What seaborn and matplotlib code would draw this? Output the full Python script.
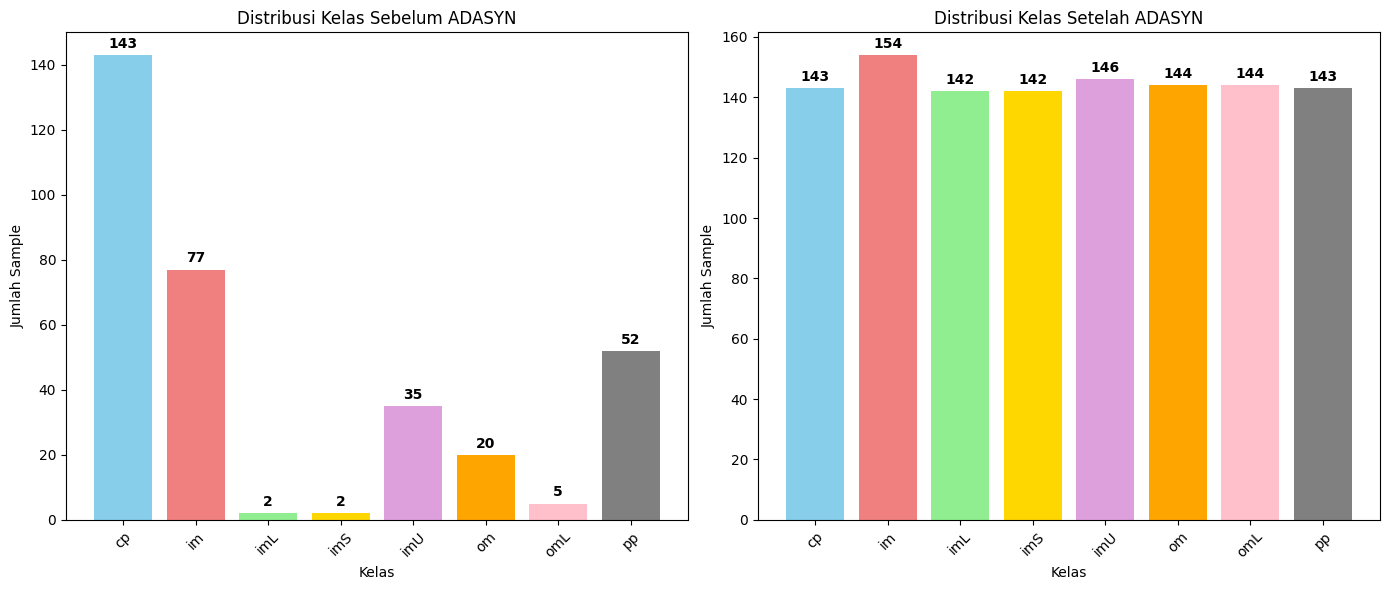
import pandas as pd
import matplotlib
matplotlib.use("Agg")
import matplotlib.pyplot as plt
import seaborn as sns

# class counts before and after ADASYN
kelas = ['cp', 'im', 'imL', 'imS', 'imU', 'om', 'omL', 'pp']
sebelum = [143, 77, 2, 2, 35, 20, 5, 52]
sesudah = [143, 154, 142, 142, 146, 144, 144, 143]
warna = ['skyblue', 'lightcoral', 'lightgreen', 'gold', 'plum', 'orange', 'pink', 'gray']

fig, axes = plt.subplots(1, 2, figsize=(13.89, 5.9), dpi=100)

panels = [
    (axes[0], sebelum, 'Distribusi Kelas Sebelum ADASYN'),
    (axes[1], sesudah, 'Distribusi Kelas Setelah ADASYN'),
]

for ax, nilai, judul in panels:
    df = pd.DataFrame({'Kelas': kelas, 'Jumlah': nilai})
    sns.barplot(data=df, x='Kelas', y='Jumlah', hue='Kelas', palette=warna,
                saturation=1, width=0.8, legend=False, ax=ax)
    for cont in ax.containers:
        ax.bar_label(cont, padding=3, fontweight='bold')
    # matplotlib-style default margins instead of seaborn's tight categorical limits
    ax.set_xlim(-0.4 - 0.39, len(kelas) - 0.6 + 0.39)
    ax.set_title(judul)
    ax.set_xlabel('Kelas')
    ax.set_ylabel('Jumlah Sample')
    ax.tick_params(axis='x', rotation=45)

plt.subplots_adjust(left=0.0475, right=0.9935, top=0.946, bottom=0.119, wspace=0.1125)
plt.savefig('out.png', dpi=100)
